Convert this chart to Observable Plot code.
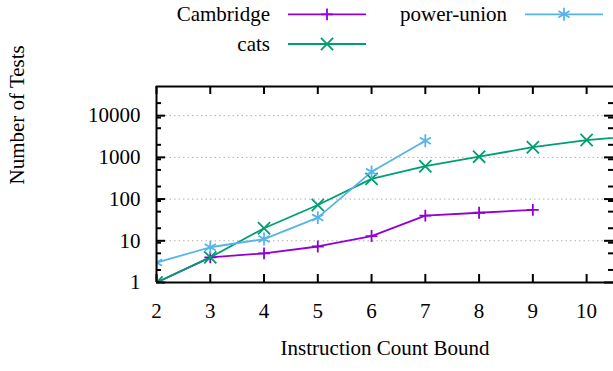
<!DOCTYPE html>
<html><head><meta charset="utf-8">
<script src="https://cdn.jsdelivr.net/npm/d3@7"></script>
<script src="https://cdn.jsdelivr.net/npm/@observablehq/plot@0.6"></script>
<style>
html,body{margin:0;padding:0;background:#fff;}
#wrap{position:relative;width:613px;height:371px;overflow:hidden;font-family:"Liberation Serif","DejaVu Serif",serif;}
#wrap svg{display:block;}
#wrap svg, #wrap svg text{font-family:"Liberation Serif","DejaVu Serif",serif !important;}
#legend{position:absolute;left:0;top:0;}
</style></head><body><div id="wrap"></div>
<script>
// ---- data ----
const seriesNames = ["Cambridge", "cats", "power-union"];
const seriesColors = ["#9400d3", "#009e73", "#56b4e9"];
const seriesSymbols = ["plus", "times", "asterisk"];
const cambridgeX = [2, 3, 4, 5, 6, 7, 8, 9];
const cambridgeY = [1, 4, 5, 7.3, 13, 40, 47, 55];
const catsX = [2, 3, 4, 5, 6, 7, 8, 9, 10, 11];
const catsY = [1, 4, 20, 72, 305, 615, 1040, 1750, 2600, 3300];
const powerUnionX = [2, 3, 4, 5, 6, 7];
const powerUnionY = [3, 7, 11, 36, 450, 2500];
const xTicks = [2, 3, 4, 5, 6, 7, 8, 9, 10];
const yTicks = [1, 10, 100, 1000, 10000];
const yMinorTicks = [2, 5, 9, 20, 50, 90, 200, 500, 900, 2000, 5000, 9000, 20000];
const xDomain = [2, 10.5];
const yDomain = [1, 50000];
const xLabel = "Instruction Count Bound";
const yLabel = "Number of Tests";

// ---- layout ----
const W = 613, H = 371, mL = 156, mR = 0, mT = 86, mB = 89;
const frameW = W - mL - mR, frameH = H - mT - mB;
const FONT = '"Liberation Serif","DejaVu Serif",serif';
const FS = 21;
const symbolR = {plus: 3.9, times: 5.6, asterisk: 6.1};

const seriesData = [
  cambridgeX.map((x, i) => ({x, y: cambridgeY[i]})),
  catsX.map((x, i) => ({x, y: catsY[i]})),
  powerUnionX.map((x, i) => ({x, y: powerUnionY[i]}))
];

const lineMarks = [], dotMarks = [];
seriesData.forEach((data, i) => {
  lineMarks.push(Plot.line(data, {x: "x", y: "y", stroke: seriesColors[i], strokeWidth: 1.8, clip: true}));
  dotMarks.push(Plot.dot(data, {x: "x", y: "y", symbol: seriesSymbols[i], r: symbolR[seriesSymbols[i]], stroke: seriesColors[i], strokeWidth: 1.8, fill: "none", clip: true}));
});

const chart = Plot.plot({
  width: W, height: H,
  marginLeft: mL, marginRight: mR, marginTop: mT, marginBottom: mB,
  style: {fontFamily: FONT, fontSize: FS + "px", background: "#fff", color: "#000", overflow: "hidden"},
  x: {domain: xDomain},
  y: {type: "log", domain: yDomain},
  marks: [
    Plot.ruleY(yTicks.slice(1), {y: d => d, stroke: "#b0b0b0", strokeWidth: 1, strokeDasharray: "1.5,3"}),
    ...lineMarks,
    ...dotMarks,
    Plot.ruleY(yTicks, {y: d => d, insetRight: frameW - 9, stroke: "#000", strokeWidth: 2}),
    Plot.ruleY(yTicks, {y: d => d, insetLeft: frameW - 9, stroke: "#000", strokeWidth: 2}),
    Plot.ruleY(yMinorTicks, {y: d => d, insetRight: frameW - 5, stroke: "#000", strokeWidth: 2}),
    Plot.ruleY(yMinorTicks, {y: d => d, insetLeft: frameW - 5, stroke: "#000", strokeWidth: 2}),
    Plot.ruleX(xTicks, {x: d => d, insetTop: frameH - 8, stroke: "#000", strokeWidth: 2}),
    Plot.ruleX(xTicks, {x: d => d, insetBottom: frameH - 8, stroke: "#000", strokeWidth: 2}),
    // frame: left, top, bottom (right edge lies just outside the picture)
    Plot.ruleY(yDomain, {y: d => d, stroke: "#000", strokeWidth: 2}),
    Plot.ruleX([xDomain[0]], {x: d => d, stroke: "#000", strokeWidth: 2}),
    Plot.axisX(xTicks, {tickSize: 0, tickPadding: 21, label: null, tickFormat: d => String(d)}),
    Plot.axisY(yTicks, {tickSize: 0, tickPadding: 16, label: null, tickFormat: d => String(d)}),
    Plot.text([xLabel], {text: d => d, frameAnchor: "bottom", dy: 72}),
    Plot.text([yLabel], {text: d => d, frameAnchor: "left", dx: -139, rotate: -90})
  ]
});
const wrap = document.getElementById("wrap");
wrap.appendChild(chart);

// ---- legend (above the frame) ----
const legendLayout = [
  {col: 0, row: 0}, // Cambridge
  {col: 0, row: 1}, // cats
  {col: 1, row: 0}  // power-union
];
const colTextRight = [270, 507];
const rowY = [14.3, 44];
const sampleStart = 18, sampleLen = 78;
const symbolMap = {plus: d3.symbolPlus, times: d3.symbolTimes, asterisk: d3.symbolAsterisk};

const leg = d3.create("svg").attr("id", "legend").attr("width", W).attr("height", 70)
  .style("font-family", FONT).style("font-size", FS + "px");
seriesNames.forEach((name, i) => {
  const {col, row} = legendLayout[i];
  const tx = colTextRight[col], y = rowY[row];
  const g = leg.append("g");
  g.append("text").attr("x", tx).attr("y", y).attr("dy", "0.31em").attr("text-anchor", "end").attr("fill", "#000").text(name);
  const x1 = tx + sampleStart, x2 = x1 + sampleLen;
  g.append("line").attr("x1", x1).attr("x2", x2).attr("y1", y).attr("y2", y)
    .attr("stroke", seriesColors[i]).attr("stroke-width", 1.8);
  const r = symbolR[seriesSymbols[i]];
  g.append("path").attr("transform", `translate(${(x1 + x2) / 2},${y})`)
    .attr("d", d3.symbol(symbolMap[seriesSymbols[i]], Math.PI * r * r)())
    .attr("fill", "none").attr("stroke", seriesColors[i]).attr("stroke-width", 1.8);
});
wrap.appendChild(leg.node());
</script></body></html>
